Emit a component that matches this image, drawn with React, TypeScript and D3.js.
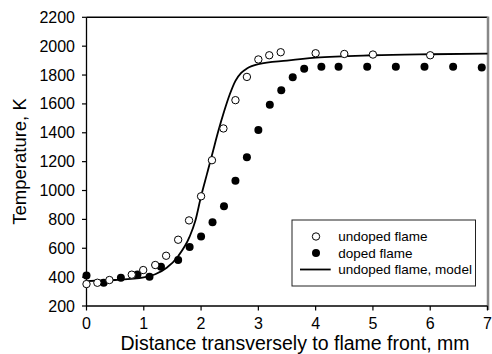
import React from "react";
import * as d3 from "d3";

const undopedX = [0, 0.19, 0.4, 0.79, 0.99, 1.2, 1.39, 1.6, 1.79, 2.0, 2.19, 2.39, 2.6, 2.8, 3.0, 3.19, 3.39, 4.0, 4.5, 5.0, 6.0];
const undopedT = [352, 361, 380, 417, 449, 484, 548, 659, 793, 960, 1210, 1430, 1626, 1787, 1908, 1937, 1958, 1951, 1946, 1942, 1937];

const dopedX = [0, 0.3, 0.6, 0.89, 1.1, 1.3, 1.6, 1.8, 2.0, 2.2, 2.4, 2.6, 2.8, 3.0, 3.2, 3.4, 3.6, 3.8, 4.1, 4.4, 4.9, 5.4, 5.9, 6.4, 6.9];
const dopedT = [412, 361, 396, 419, 403, 472, 518, 608, 681, 781, 891, 1068, 1231, 1419, 1594, 1695, 1785, 1843, 1857, 1857, 1857, 1857, 1857, 1857, 1852];

const modelX = [0, 0.5, 1.0, 1.2, 1.4, 1.6, 1.8, 1.9, 2.0, 2.1, 2.2, 2.3, 2.4, 2.5, 2.6, 2.7, 2.8, 3.0, 3.5, 4.0, 5.0, 6.0, 7.0];
const modelT = [373, 380, 398, 420, 465, 545, 680, 790, 960, 1110, 1260, 1410, 1545, 1665, 1760, 1815, 1845, 1875, 1900, 1920, 1937, 1944, 1948];

const xTicks = [0, 1, 2, 3, 4, 5, 6, 7];
const yTicks = [200, 400, 600, 800, 1000, 1200, 1400, 1600, 1800, 2000, 2200];

const legendLabels = ["undoped flame", "doped flame", "undoped flame, model"];

const FONT = "'Liberation Sans', Arial, sans-serif";

export default function App() {
  const W = 492, H = 354;
  const x = d3.scaleLinear().domain([0, 7]).range([86.5, 487.5]);
  const y = d3.scaleLinear().domain([200, 2200]).range([306, 17.3]);
  const line = d3
    .line<number>()
    .x((_, i) => x(modelX[i]))
    .y((d) => y(d))
    .curve(d3.curveMonotoneX);

  return (
    <svg
      width={W}
      height={H}
      style={{ position: "absolute", left: 0, top: 0, background: "#fff" }}
      fontFamily={FONT}
    >
      <rect x={0} y={0} width={W} height={H} fill="#fff" />
      {/* frame */}
      <line x1={x(0)} x2={x(7)} y1={y(2200)} y2={y(2200)} stroke="#000" strokeWidth={1.5} />
      <line x1={x(7) + 0.5} x2={x(7) + 0.5} y1={y(2200) - 0.7} y2={y(200) + 4} stroke="#888" strokeWidth={2.5} />
      {/* y axis */}
      <line x1={x(0)} x2={x(0)} y1={y(2200)} y2={y(200)} stroke="#000" strokeWidth={1.3} />
      {yTicks.map((t) => (
        <g key={"y" + t}>
          <line x1={x(0) - 4.5} x2={x(0)} y1={y(t)} y2={y(t)} stroke="#000" strokeWidth={1.2} />
          <text x={75} y={y(t)} textAnchor="end" dominantBaseline="central" fontSize={16} fill="#000">
            {t}
          </text>
        </g>
      ))}
      {/* x axis */}
      <line x1={x(0)} x2={x(7)} y1={y(200)} y2={y(200)} stroke="#000" strokeWidth={1.3} />
      {xTicks.map((t) => (
        <g key={"x" + t}>
          <line x1={x(t)} x2={x(t)} y1={y(200)} y2={y(200) + 4.5} stroke="#000" strokeWidth={1.2} />
          <text x={x(t)} y={329.3} textAnchor="middle" fontSize={16} fill="#000">
            {t}
          </text>
        </g>
      ))}
      <text x={295} y={349.5} textAnchor="middle" fontSize={19.5} fill="#000">
        Distance transversely to flame front, mm
      </text>
      <text
        transform={`translate(25.5,161.5) rotate(-90)`}
        textAnchor="middle"
        fontSize={18.5}
        fill="#000"
      >
        Temperature, K
      </text>
      {/* model line */}
      <path d={line(modelT) || ""} fill="none" stroke="#000" strokeWidth={1.8} />
      {/* doped */}
      {dopedT.map((t, i) => (
        <circle key={"d" + i} cx={x(dopedX[i])} cy={y(t)} r={4} fill="#000" />
      ))}
      {/* undoped */}
      {undopedT.map((t, i) => (
        <circle key={"u" + i} cx={x(undopedX[i])} cy={y(t)} r={3.7} fill="#fff" stroke="#000" strokeWidth={1} />
      ))}
      {/* legend */}
      <rect x={292} y={220} width={183.5} height={66} fill="#fff" stroke="#222" strokeWidth={1} />
      <circle cx={316} cy={236.5} r={3.7} fill="#fff" stroke="#000" strokeWidth={1} />
      <circle cx={316} cy={253} r={4} fill="#000" />
      <line x1={300} x2={330.7} y1={269.5} y2={269.5} stroke="#000" strokeWidth={1.8} />
      {legendLabels.map((l, i) => (
        <text key={l} x={338.3} y={236.5 + i * 16.5} dominantBaseline="central" fontSize={13.5} fill="#000">
          {l}
        </text>
      ))}
    </svg>
  );
}
